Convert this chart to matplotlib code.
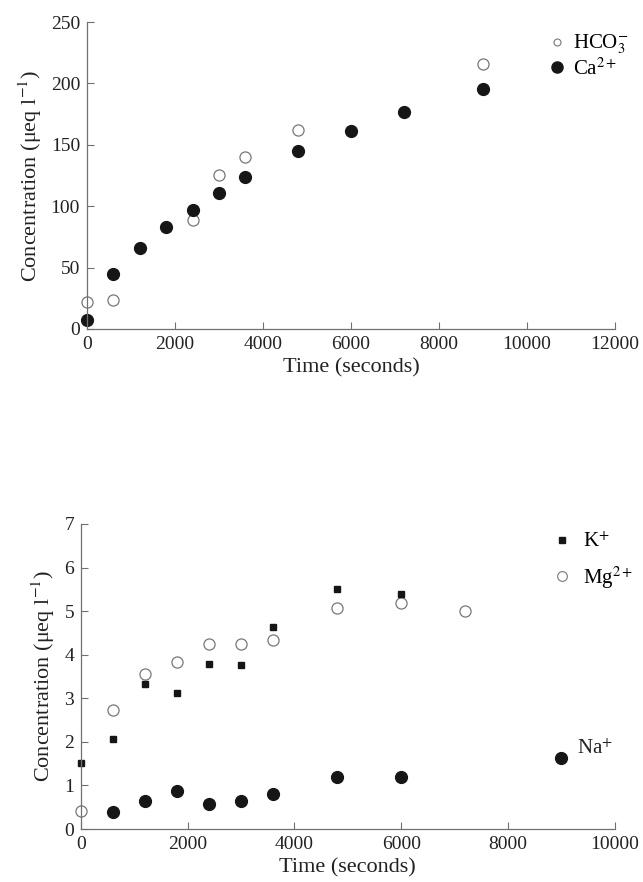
import matplotlib
matplotlib.use("Agg")
import matplotlib.pyplot as plt
from matplotlib.lines import Line2D

plt.rcParams['font.family'] = ['Liberation Serif', 'DejaVu Serif']
plt.rcParams['mathtext.fontset'] = 'stix'

# top panel: HCO3- and Ca2+
top_t_hco3 = [0, 600, 2400, 3000, 3600, 4800, 9000]
hco3 = [22, 24, 88.6, 125.5, 139.8, 162, 215.5]
top_t_ca = [0, 600, 1200, 1800, 2400, 3000, 3600, 4800, 6000, 7200, 9000]
ca = [7, 45, 66, 83, 97, 111, 123.5, 144.6, 161, 176.5, 195.5]

# bottom panel: K+, Mg2+, Na+
k_t = [0, 600, 1200, 1800, 2400, 3000, 3600, 4800, 6000]
k = [1.51, 2.07, 3.32, 3.11, 3.79, 3.76, 4.63, 5.51, 5.39]
mg_t = [0, 600, 1200, 1800, 2400, 3000, 3600, 4800, 6000, 7200]
mg = [0.42, 2.73, 3.55, 3.83, 4.24, 4.24, 4.34, 5.07, 5.19, 5.01]
na_t = [600, 1200, 1800, 2400, 3000, 3600, 4800, 6000, 9000]
na = [0.40, 0.64, 0.87, 0.57, 0.64, 0.80, 1.19, 1.19, 1.62]

ylab = 'Concentration (μeq l$^{-1}$)'
ink = '#161616'
axcol = '#707070'

fig = plt.figure(figsize=(6.43, 8.82), dpi=100)
ax1 = fig.add_axes([0.1353, 0.627, 0.821, 0.348])
ax2 = fig.add_axes([0.126, 0.060, 0.830, 0.346])

def style(ax):
    for s in ['top', 'right']:
        ax.spines[s].set_visible(False)
    for s in ['left', 'bottom']:
        ax.spines[s].set_color(axcol)
        ax.spines[s].set_linewidth(0.9)
    ax.tick_params(direction='in', length=5, width=0.8, color=axcol,
                   labelsize=14, labelcolor='#222222', pad=5)
    ax.set_xlabel('Time (seconds)', fontsize=16, color='#222222', labelpad=4)
    ax.set_ylabel(ylab, fontsize=16, color='#222222', labelpad=5)

# top
ax1.plot(top_t_hco3, hco3, 'o', ms=8, mfc='none', mec='#777777', mew=0.9, clip_on=False)
ax1.plot(top_t_ca, ca, 'o', ms=8.5, color=ink, clip_on=False)
ax1.set_xlim(0, 12000)
ax1.set_ylim(0, 250)
ax1.set_xticks(range(0, 12001, 2000))
ax1.set_yticks(range(0, 251, 50))
style(ax1)
h1 = [Line2D([], [], ls='none', marker='o', ms=5, mfc='none', mec='#777777', mew=0.8),
      Line2D([], [], ls='none', marker='o', ms=8, color=ink)]
ax1.legend(h1, ['HCO$_3^{-}$', 'Ca$^{2+}$'], loc='upper left',
           bbox_to_anchor=(0.875, 0.965), frameon=False, fontsize=15,
           handlelength=0.8, handletextpad=0.35, labelspacing=0.1,
           borderpad=0, borderaxespad=0)

# bottom
ax2.plot(mg_t, mg, 'o', ms=8, mfc='none', mec='#777777', mew=0.9, clip_on=False)
ax2.plot(k_t, k, 's', ms=4, color=ink, clip_on=False)
ax2.plot(na_t, na, 'o', ms=8.5, color=ink, clip_on=False)
ax2.set_xlim(0, 10000)
ax2.set_ylim(0, 7)
ax2.set_xticks(range(0, 10001, 2000))
ax2.set_yticks(range(0, 8))
style(ax2)
h2 = [Line2D([], [], ls='none', marker='s', ms=4, color=ink),
      Line2D([], [], ls='none', marker='o', ms=7, mfc='none', mec='#777777', mew=0.8)]
ax2.legend(h2, ['K$^{+}$', 'Mg$^{2+}$'], loc='upper left',
           bbox_to_anchor=(0.885, 0.972), frameon=False, fontsize=15,
           handlelength=0.8, handletextpad=0.6, labelspacing=0.6,
           borderpad=0, borderaxespad=0)
ax2.annotate('Na$^{+}$', xy=(na_t[-1], na[-1]), xytext=(11, 7),
             textcoords='offset points', fontsize=15, color='#222222',
             ha='left', va='center')

fig.savefig('out.png', dpi=100, facecolor='white')
